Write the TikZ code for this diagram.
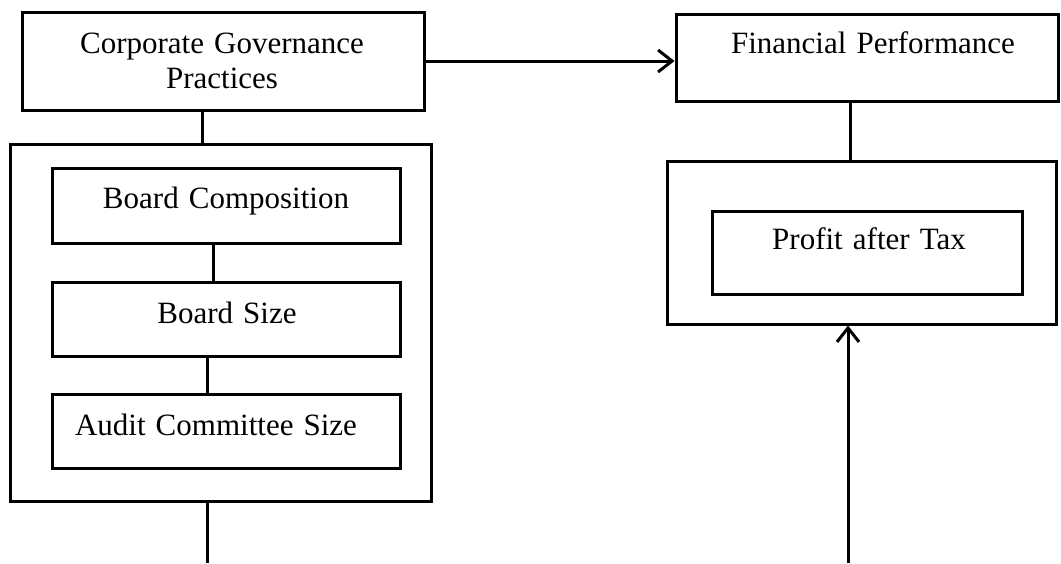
\documentclass[tikz,border=0pt]{standalone}
\usepackage{fontspec}
\setmainfont{Liberation Serif}[WordSpace=1.3]
\usetikzlibrary{arrows.meta}
\begin{document}
\begin{tikzpicture}[x=1pt,y=-1pt,
  box/.style={draw,line width=3pt,rectangle,inner sep=0pt},
  txt/.style={font=\fontsize{31}{35}\selectfont,inner sep=0pt,anchor=base},
  conn/.style={line width=3pt},
  arr/.style={line width=3pt,-{Straight Barb[length=14pt,width=22pt]}}]
\useasboundingbox (0,0) rectangle (1061,563);
% boxes
\node[box,minimum width=402pt,minimum height=98pt] (cgp) at (223,61) {};
\node[box,minimum width=382pt,minimum height=87pt] (fp) at (867,57.5) {};
\node[box,minimum width=421pt,minimum height=357pt] (lc) at (220.5,322.5) {};
\node[box,minimum width=348pt,minimum height=75pt] (bc) at (226,205.5) {};
\node[box,minimum width=348pt,minimum height=74pt] (bs) at (226,319) {};
\node[box,minimum width=348pt,minimum height=74pt] (acs) at (226,431) {};
\node[box,minimum width=389pt,minimum height=163pt] (rc) at (861.5,242.5) {};
\node[box,minimum width=310pt,minimum height=83pt] (pat) at (867,252.5) {};
% texts
\node[txt] (cgpT1) at (222,53) {Corporate Governance};
\node[txt] (cgpT2) at (222,88) {Practices};
\node[txt] (fpT) at (873,53) {Financial Performance};
\node[txt] (bcT) at (226,208) {Board Composition};
\node[txt] (bsT) at (227,323) {Board Size};
\node[txt] (acsT) at (216,435) {Audit Committee Size};
\node[txt] (patT) at (869,249) {Profit after Tax};
% connectors
\coordinate (lcEnd) at (207,563);
\coordinate (arrStart) at (848,563);
\draw[arr] (cgp.east) -- (fp.west |- cgp.east);
\draw[conn] ([xshift=-21pt]cgp.south) -- ([xshift=-21pt]cgp.south |- lc.north);
\draw[conn] ([xshift=-13pt]bc.south) -- ([xshift=-13pt]bc.south |- bs.north);
\draw[conn] ([xshift=-19pt]bs.south) -- ([xshift=-19pt]bs.south |- acs.north);
\draw[conn] (lcEnd |- lc.south) -- (lcEnd);
\draw[conn] ([xshift=-17pt]fp.south) -- ([xshift=-17pt]fp.south |- rc.north);
\draw[arr] (arrStart) -- (arrStart |- rc.south);
\end{tikzpicture}
\end{document}
